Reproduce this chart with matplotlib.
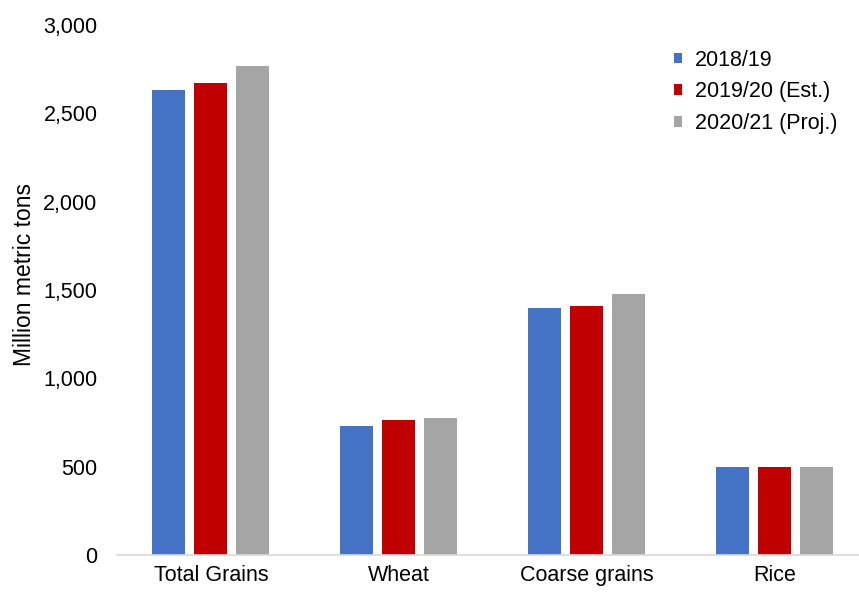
import numpy as np
import matplotlib.pyplot as plt
from matplotlib.ticker import FuncFormatter

categories = ["Total Grains", "Wheat", "Coarse grains", "Rice"]
series_names = ["2018/19", "2019/20 (Est.)", "2020/21 (Proj.)"]
vals_2018 = [2631, 733, 1397, 497]
vals_2019 = [2672, 763, 1411, 497]
vals_2020 = [2766, 773, 1480, 497]
colors = ["#4472C4", "#C00000", "#A5A5A5"]


def main():
    plt.rcParams["font.family"] = ["Liberation Sans", "DejaVu Sans"]
    fig = plt.figure(figsize=(8.59, 5.93), dpi=100)
    ax = fig.add_axes([0.1362, 0.0641, 0.8754, 0.8937])

    x = np.arange(len(categories))
    width = 0.1755
    step = 0.2234
    for i, (vals, name) in enumerate(zip([vals_2018, vals_2019, vals_2020], series_names)):
        ax.bar(x + (i - 1) * step, vals, width, color=colors[i], label=name)

    ax.set_xlim(-0.5, 3.5)
    ax.set_ylim(0, 3000)
    ax.set_yticks(np.arange(0, 3001, 500))
    ax.yaxis.set_major_formatter(FuncFormatter(lambda v, p: f"{int(v):,}"))
    ax.set_xticks(x)
    ax.set_xticklabels(categories)
    ax.tick_params(axis="both", length=0, labelsize=15.5, colors="black")
    ax.tick_params(axis="y", pad=14)
    ax.tick_params(axis="x", pad=7)

    for s in ["top", "right", "left"]:
        ax.spines[s].set_visible(False)
    ax.spines["bottom"].set_color("#D9D9D9")
    ax.spines["bottom"].set_linewidth(1.2)

    ax.set_ylabel("Million metric tons", fontsize=16.5, labelpad=5)
    ax.yaxis.label.set_y(0.53)

    ax.legend(loc="upper left", bbox_to_anchor=(0.715, 0.99), frameon=False,
              fontsize=15.5, handlelength=0.38, handleheight=0.38,
              handletextpad=0.6, labelspacing=0.5)

    fig.savefig("out.png", dpi=100)


if __name__ == "__main__":
    main()
